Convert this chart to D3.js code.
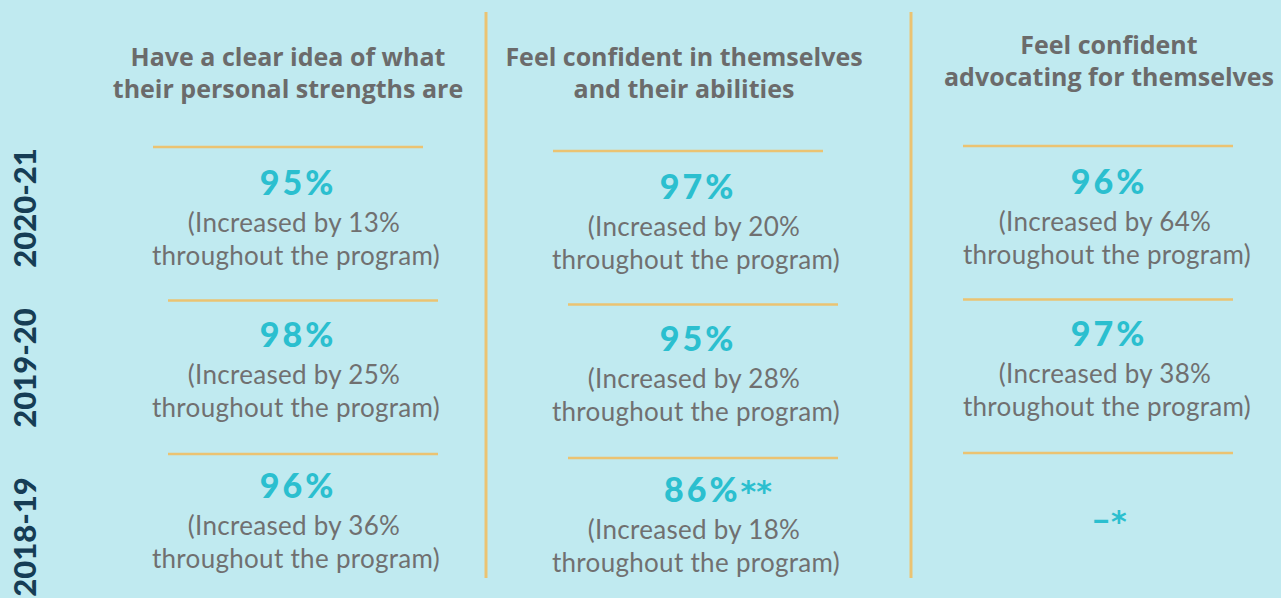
<!DOCTYPE html>
<meta charset="utf-8">
<style>
  body { margin: 0; background: #c0eaf0; }
  svg { display: block; }
  .head { font-family: "Open Sans", sans-serif; font-weight: 700; fill: #6b6b6b; }
  .pct { font-family: Lato, sans-serif; font-weight: 900; fill: #2bbfcf; }
  .star { font-family: "DejaVu Sans", sans-serif; font-weight: 700; }
  .sub { font-family: Lato, sans-serif; font-weight: 400; fill: #707070; }
  .year { font-family: Lato, sans-serif; font-weight: 900; fill: #163d55; }
</style>
<body>
<svg width="1281" height="598"></svg>
<script src="https://d3js.org/d3.v7.min.js"></script>
<script>
// data ------------------------------------------------------------------
var questions = [
  ["Have a clear idea of what", "their personal strengths are"],
  ["Feel confident in themselves", "and their abilities"],
  ["Feel confident", "advocating for themselves"]
];
var years = ["2020-21", "2019-20", "2018-19"];
// share of participants, by question (rows follow years)
var pctStrengths = ["95%", "98%", "96%"];
var pctAbilities = ["97%", "95%", "86%**"];
var pctAdvocating = ["96%", "97%", "–*"];
// increase over the program
var incStrengths = ["13%", "25%", "36%"];
var incAbilities = ["20%", "28%", "18%"];
var incAdvocating = ["64%", "38%", null];

var pcts = [pctStrengths, pctAbilities, pctAdvocating];
var incs = [incStrengths, incAbilities, incAdvocating];

const svg = d3.select('svg'),
      width = +svg.attr('width'),
      height = +svg.attr('height');

svg.append('rect').attr('width', width).attr('height', height).attr('fill', '#c0eaf0');

// scales ----------------------------------------------------------------
var qKeys = questions.map((d, i) => i);
var colX = d3.scaleOrdinal().domain(qKeys).range([296, 696, 1107]);
var headDX = d3.scaleOrdinal().domain(qKeys).range([-8, -12, 2]);
var sepDX = d3.scaleOrdinal().domain(qKeys).range([-8, -8, -9]);
var divX = d3.scaleOrdinal().domain([0, 1]).range([486, 911]);
var rowY = d3.scalePoint().domain(years).range([195, 498]);   // pct baseline
var lineY = d3.scalePoint().domain(years).range([147, 454]);  // separator above each row
var colDY = d3.scaleOrdinal().domain(qKeys).range([0, 4, -1]);
var yearY = d3.scaleOrdinal().domain(years).range([208, 368, 537]);

// column dividers
svg.selectAll('.divider')
  .data([0, 1])
  .enter().append('line')
  .attr('x1', d => divX(d))
  .attr('x2', d => divX(d))
  .attr('y1', 12).attr('y2', 578)
  .attr('stroke', '#ebc372').attr('stroke-width', 3);

// headers
var head = svg.selectAll('.headg')
  .data(questions)
  .enter().append('text')
  .attr('class', 'head')
  .attr('text-anchor', 'middle')
  .attr('font-size', 25);
head.selectAll('tspan')
  .data((d, i) => d.map(t => ({t: t, i: i})))
  .enter().append('tspan')
  .attr('x', d => colX(d.i) + headDX(d.i))
  .attr('y', (d, j) => (d.i === 2 ? 54 : 66) + j * 32)
  .text(d => d.t);

// cells
var cells = [];
qKeys.forEach(q => years.forEach((y, r) => cells.push({q: q, year: y, pct: pcts[q][r], inc: incs[q][r]})));

// separators
svg.selectAll('.sep')
  .data(cells)
  .enter().append('line')
  .attr('x1', d => colX(d.q) + sepDX(d.q) - 135 + (d.q !== 2 && d.year !== years[0] ? 15 : 0))
  .attr('x2', d => colX(d.q) + sepDX(d.q) + 135 + (d.q !== 2 && d.year !== years[0] ? 15 : 0))
  .attr('y1', d => lineY(d.year) + colDY(d.q))
  .attr('y2', d => lineY(d.year) + colDY(d.q))
  .attr('stroke', '#ebc372').attr('stroke-width', 2.5);

var pct = svg.selectAll('.pct')
  .data(cells)
  .enter().append('text')
  .attr('class', 'pct')
  .attr('text-anchor', 'middle')
  .attr('font-size', 34)
  .attr('x', d => colX(d.q) + (d.pct.length > 4 ? 22 : 2))
  .attr('y', d => d.inc ? rowY(d.year) + colDY(d.q) : rowY(d.year) + 34);
pct.append('tspan')
  .attr('letter-spacing', d => d.inc ? 3 : 0)
  .text(d => d.pct.replace(/\*/g, ''));
pct.append('tspan')
  .attr('class', 'star')
  .attr('font-size', 30)
  .text(d => d.pct.replace(/[^*]/g, ''));

var sub = svg.selectAll('.sub')
  .data(cells.filter(d => d.inc))
  .enter().append('text')
  .attr('class', 'sub')
  .attr('text-anchor', 'middle')
  .attr('font-size', 26)
  .attr('letter-spacing', 0.3);
sub.append('tspan')
  .attr('x', d => colX(d.q) - 2)
  .attr('y', d => rowY(d.year) + colDY(d.q) + 37)
  .text(d => '(Increased by ' + d.inc);
sub.append('tspan')
  .attr('x', d => colX(d.q))
  .attr('y', d => rowY(d.year) + colDY(d.q) + 70)
  .text('throughout the program)');

// year labels
svg.selectAll('.year')
  .data(years)
  .enter().append('text')
  .attr('class', 'year')
  .attr('text-anchor', 'middle')
  .attr('font-size', 31)
  .attr('transform', d => 'translate(36,' + yearY(d) + ') rotate(-90)')
  .text(d => d);
</script>
</body>
